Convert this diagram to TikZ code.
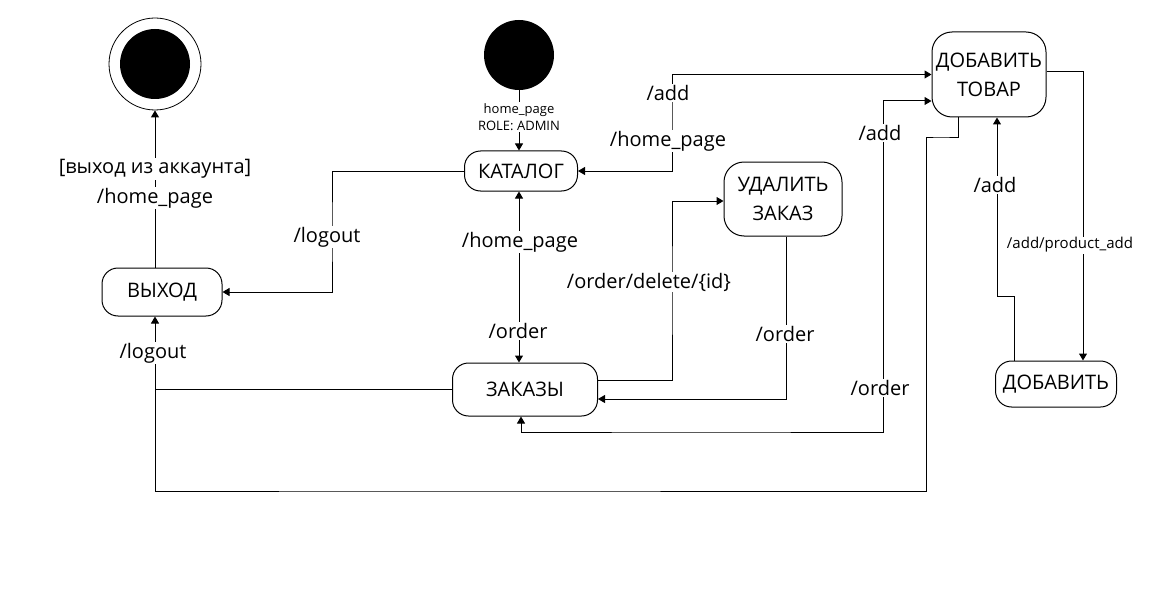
\documentclass[tikz,border=0pt]{standalone}
\usepackage{fontspec}
\setmainfont{Open Sans}
\usetikzlibrary{arrows.meta}
\begin{document}
\begin{tikzpicture}[x=1pt,y=-1pt,
  state/.style={draw, line width=1pt, rounded corners=16pt, align=center, font=\fontsize{20}{29}\selectfont, inner sep=0pt},
  lbl/.style={fill=white, inner sep=1pt, font=\fontsize{20}{22}\selectfont},
  slbl/.style={fill=white, inner sep=1pt, font=\fontsize{13}{17}\selectfont},
  mlbl/.style={fill=white, inner sep=1pt, font=\fontsize{15}{17}\selectfont},
  conn/.style={line width=1pt},
  arr/.style={conn, -{Triangle[length=7pt,width=8pt]}},
  barr/.style={conn, {Triangle[length=7pt,width=8pt]}-{Triangle[length=7pt,width=8pt]}}
]
\useasboundingbox (0,0) rectangle (1151,599);
% states
\node[circle, fill=black, minimum size=70pt, inner sep=0pt] (init) at (519,55) {};
\node[circle, draw, line width=0.8pt, minimum size=92pt, inner sep=0pt] (final) at (155,64) {};
\node[circle, fill=black, minimum size=70pt, inner sep=0pt] (finalin) at (155,64) {};
\node[state, minimum width=113pt, minimum height=40pt] (kat) at (521,171) {КАТАЛОГ};
\node[state, minimum width=120pt, minimum height=48pt] (vyh) at (162,292) {ВЫХОД};
\node[state, minimum width=145pt, minimum height=53pt] (zak) at (525,389.5) {ЗАКАЗЫ};
\node[state, minimum width=118pt, minimum height=74pt, rounded corners=20pt] (ud) at (783,199) {УДАЛИТЬ\\ЗАКАЗ};
\node[state, minimum width=114pt, minimum height=85pt, rounded corners=20pt] (dt) at (989,74.5) {ДОБАВИТЬ\\ТОВАР};
\node[state, minimum width=121pt, minimum height=46pt] (dob) at (1056,384) {ДОБАВИТЬ};
% connectors
\draw[arr] (init.south) -- (init.south |- kat.north);
\draw[arr] (kat.west) -| (332,232) |- (vyh.east);
\draw[barr] ([xshift=-2pt]kat.south) -- ([xshift=-6pt]zak.north);
\draw[barr] (kat.east) -| (672,120) |- (dt.west);
\draw[arr] ([yshift=9.5pt]zak.east) -| (672,290) |- ([yshift=-2pt]ud.west);
\draw[arr] ([xshift=3pt]ud.south) |- ([yshift=-9.5pt]zak.east);
\draw[barr] ([xshift=-4pt]zak.south) |- (700,432) -| (883,300) |- ([yshift=-26.5pt]dt.west);
\draw[arr] ([xshift=-31pt]dt.south) |- (940,138) -| (926,300) |- (400,491) -| ([xshift=-7pt]vyh.south);
\draw[conn] (zak.west) -- (155,389.5);
\draw[arr] ([yshift=2.5pt]dt.east) -| ([xshift=27pt]dob.north);
\draw[arr] ([xshift=-42pt]dob.north) |- (997,296) -- ([xshift=8pt]dt.south);
\draw[arr] ([xshift=-7pt]vyh.north) -- (final.south);
% labels
\node[lbl] (l1) at (155,169) {[выход из аккаунта]};
\node[lbl] (l2) at (155,198) {/home\_page};
\node[slbl, align=center] (l3) at (519,117) {home\_page\\ROLE: ADMIN};
\node[lbl] (l4) at (668,93) {/add};
\node[lbl] (l5) at (668,141) {/home\_page};
\node[lbl] (l6) at (327,237) {/logout};
\node[lbl] (l7) at (520,242) {/home\_page};
\node[lbl] (l8) at (518,331) {/order};
\node[lbl] (l9) at (649,282) {/order/delete/\{id\}};
\node[lbl] (l10) at (785,334) {/order};
\node[lbl] (l11) at (880,133) {/add};
\node[lbl] (l12) at (880,388) {/order};
\node[lbl] (l13) at (995,185) {/add};
\node[mlbl] (l14) at (1070,245) {/add/product\_add};
\node[lbl] (l15) at (153,353) {/logout};
\end{tikzpicture}
\end{document}
